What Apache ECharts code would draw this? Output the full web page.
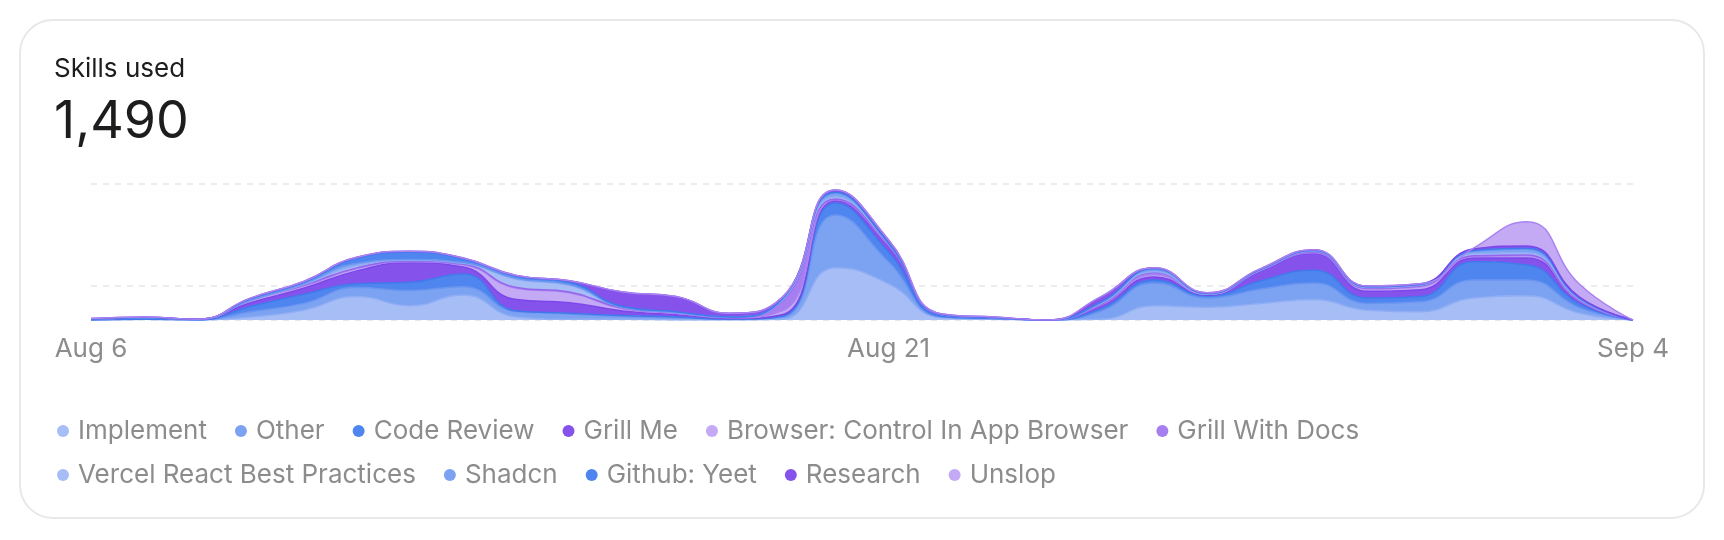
<!DOCTYPE html>
<html>
<head>
<meta charset="utf-8">
<script src="https://cdn.jsdelivr.net/npm/echarts@6/dist/echarts.min.js"></script>
<style>
  html, body { margin: 0; padding: 0; background: #ffffff; }
  #card {
    position: absolute; left: 19px; top: 19px; width: 1686px; height: 500px;
    box-sizing: border-box; border: 2px solid #e8e8e8; border-radius: 34px; background: #fff;
  }
  #chart { position: absolute; left: 0; top: 0; width: 1724px; height: 540px; }
</style>
</head>
<body>
<div id="card"></div>
<div id="chart"></div>
<script>
const categories = ['Aug 6','Aug 7','Aug 8','Aug 9','Aug 10','Aug 11','Aug 12','Aug 13','Aug 14','Aug 15',
  'Aug 16','Aug 17','Aug 18','Aug 19','Aug 20','Aug 21','Aug 22','Aug 23','Aug 24','Aug 25',
  'Aug 26','Aug 27','Aug 28','Aug 29','Aug 30','Aug 31','Sep 1','Sep 2','Sep 3','Sep 4'];
const shownTickLabels = ['Aug 6', 'Aug 21', 'Sep 4'];

const seriesNames = ['Implement','Other','Code Review','Grill Me','Browser: Control In App Browser','Grill With Docs',
  'Vercel React Best Practices','Shadcn','Github: Yeet','Research','Unslop'];

const implementData  = [0,1,0,4,13,31,19,33,4,1,1,0,0,1,69,48,3,1,0,1,19,17,22,27,13,11,29,32,9,0];
const otherData      = [0,0,0,7,9,12,20,11,7,7,4,3,1,3,70,29,1,1,0,11,30,12,19,22,9,13,24,21,7,0];
const codeReviewData = [0,0,0,7,12,5,11,17,1,1,1,1,0,1,16,13,1,0,0,3,4,3,11,17,7,7,24,20,5,0];
const grillMeData    = [1,2,1,5,8,17,26,9,15,14,6,3,1,2,3,8,2,1,0,4,4,1,13,22,9,9,5,9,3,0];
const browserData    = [0,0,0,3,3,3,1,3,15,13,3,2,1,5,1,1,0,0,0,1,3,1,1,1,3,4,2,3,1,0];
const grillDocsData  = [0,0,0,0,1,1,1,1,1,1,1,1,1,13,1,1,0,0,0,1,3,0,0,1,1,1,1,1,1,0];
const vercelData     = [0,0,0,0,1,3,1,1,11,9,1,0,0,1,3,1,0,0,0,1,1,0,0,1,1,1,3,3,1,0];
const shadcnData     = [0,0,0,0,1,3,1,1,1,1,0,0,0,1,5,1,0,0,0,1,3,1,1,1,1,1,3,5,1,0];
const yeetData       = [0,0,0,2,2,7,10,5,3,3,1,1,0,1,1,0,0,0,0,1,1,0,0,0,0,0,1,1,1,0];
const researchData   = [1,1,0,1,1,1,1,1,1,2,19,20,5,2,3,4,1,1,0,7,1,1,1,1,1,1,2,3,1,0];
const unslopData     = [0,0,0,0,0,0,0,0,0,0,0,0,0,0,0,0,0,0,0,0,0,0,0,0,0,0,1,32,17,0];

const seriesValues = [implementData, otherData, codeReviewData, grillMeData, browserData, grillDocsData,
  vercelData, shadcnData, yeetData, researchData, unslopData];

const fillColors   = ['#a6bdf6','#7ca2f2','#4e85ee','#8552ec','#c4a9f5','#a67eef'];
const strokeColors = ['#8eadf4','#6a95f0','#4179ec','#7c47ea','#a984f1','#9566ed'];

const FONT = 'Inter, "Noto Sans", sans-serif';

const chart = echarts.init(document.getElementById('chart'), null, { renderer: 'canvas' });

const series = seriesNames.map((name, i) => ({
  name: name,
  type: 'line',
  stack: 'total',
  smooth: 0.5,
  symbol: 'none',
  data: seriesValues[i],
  itemStyle: { color: fillColors[i % 6] },
  lineStyle: { width: 1.5, color: strokeColors[i % 6] },
  areaStyle: { color: fillColors[i % 6], opacity: 1 },
  emphasis: { disabled: true }
}));

chart.setOption({
  animation: false,
  backgroundColor: 'transparent',
  title: [
    { text: 'Skills used', left: 54, top: 56, padding: 0,
      textStyle: { fontFamily: FONT, fontSize: 26, fontWeight: 400, color: '#1d1d1f', lineHeight: 26 } },
    { text: '1,490', left: 54, top: 96, padding: 0,
      textStyle: { fontFamily: FONT, fontSize: 52, fontWeight: 400, color: '#1d1d1f', lineHeight: 52 } }
  ],
  grid: { left: 91, right: 91, top: 184, bottom: 220, containLabel: false },
  xAxis: {
    type: 'category',
    data: categories,
    boundaryGap: false,
    axisLine: { show: false },
    axisTick: { show: false },
    splitLine: { show: false },
    axisLabel: {
      interval: (idx, val) => shownTickLabels.indexOf(val) >= 0,
      color: '#8c8c8c', fontFamily: FONT, fontSize: 26, margin: 16, lineHeight: 26
    }
  },
  yAxis: {
    type: 'value',
    min: 0, max: 180, interval: 45,
    axisLabel: { show: false },
    axisLine: { show: false },
    axisTick: { show: false },
    splitLine: {
      show: true,
      lineStyle: { type: [6, 6], width: 1.5, color: ['#e2e2e2', '#e6e6e6', 'rgba(0,0,0,0)', 'rgba(0,0,0,0)', '#e6e6e6'] }
    }
  },
  legend: {
    left: 52, top: 413, width: 1600,
    icon: 'circle', itemWidth: 12, itemHeight: 12, itemGap: 18,
    selectedMode: false,
    data: seriesNames,
    textStyle: { fontFamily: FONT, fontSize: 26, color: '#8c8c8c', lineHeight: 26, padding: [0, 10, 0, 4] }
  },
  series: series
});
</script>
</body>
</html>
